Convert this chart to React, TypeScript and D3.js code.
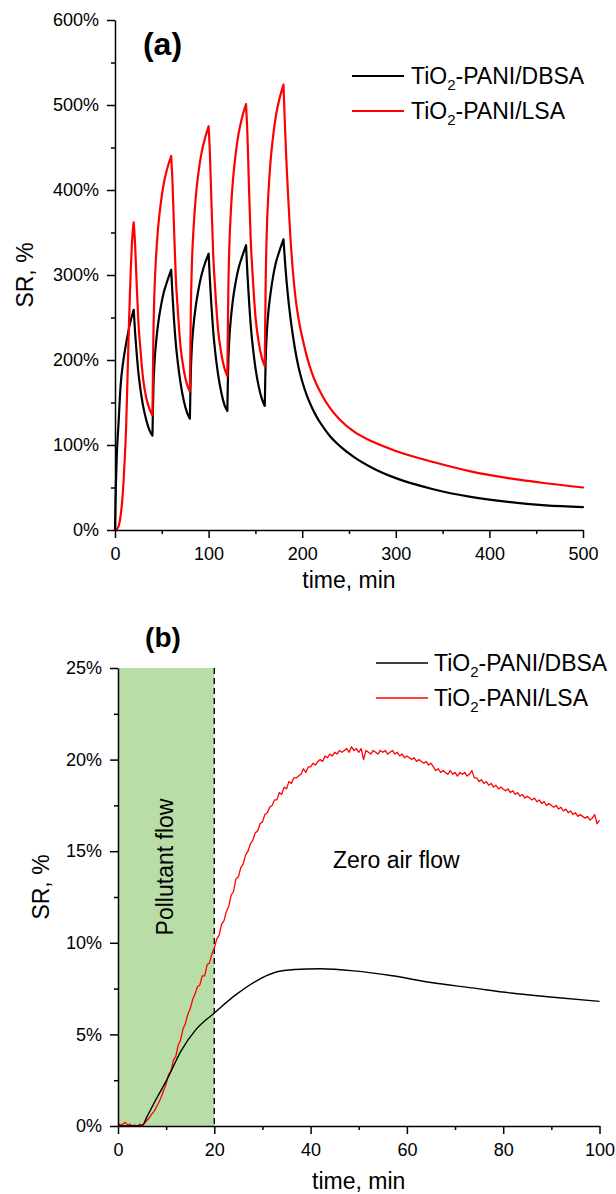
import React, { useEffect, useRef } from 'react';
import * as d3 from 'd3';

const W = 616;
const H = 1194;
const FONT = "'Liberation Sans', Arial, Helvetica, sans-serif";

// ---------- Panel (a) ----------
const aTimeTicks = [0, 100, 200, 300, 400, 500];
const aTimeMinor = [50, 150, 250, 350, 450];
const aSrTicks = [0, 100, 200, 300, 400, 500, 600];
const aSrMinor = [50, 150, 250, 350, 450, 550];

const aDbsaTime = [
  0, 0.5, 1, 2, 3.6, 6, 9, 12.5, 16, 20,
  21.5, 23, 25, 27, 30, 33.5, 37, 40,
  40.5, 41, 42, 44, 46, 49, 52, 55, 60,
  61.5, 63, 65, 67, 70, 73.5, 77, 80,
  80.5, 81, 82, 84, 86, 89, 92, 95, 100,
  101.5, 103, 105, 107, 110, 113.5, 117, 120,
  120.5, 121, 122, 124, 126, 129, 132, 135, 140,
  141.5, 143, 145, 147, 150, 153.5, 157, 160,
  160.5, 161, 162, 164, 166, 169, 172, 175, 180,
  182, 185, 188, 192, 196, 200, 205, 210, 215, 220, 230, 240, 255, 275, 300, 340, 380, 420, 460, 500,
];
const aDbsaSR = [
  0, 30, 55, 90, 122, 170, 200, 223, 243, 259,
  232, 210, 185, 167, 146, 129, 117, 111,
  140, 166, 193, 222, 242, 263, 279, 290, 306,
  275, 248, 219, 198, 173, 152, 138, 131,
  160, 185, 213, 242, 261, 282, 298, 310, 325,
  292, 264, 233, 210, 184, 162, 147, 140,
  169, 195, 222, 251, 271, 292, 308, 319, 335,
  301, 273, 241, 218, 191, 169, 154, 146,
  175, 201, 228, 258, 277, 299, 315, 326, 342,
  310, 273, 245, 215, 192, 175, 158, 145, 134, 125, 110, 99, 86, 73, 61, 48, 39, 33, 29, 27,
];

const aLsaTime = [
  0, 2, 4, 6, 8, 10, 12, 13, 14, 15, 16, 17, 18, 19, 20,
  21.5, 23, 25, 27, 30, 33.5, 37, 40,
  40.5, 41, 42, 44, 46, 49, 52, 55, 60,
  61.5, 63, 65, 67, 70, 73.5, 77, 80,
  80.5, 81, 82, 84, 86, 89, 92, 95, 100,
  101.5, 103, 105, 107, 110, 113.5, 117, 120,
  120.5, 121, 122, 124, 126, 129, 132, 135, 140,
  141.5, 143, 145, 147, 150, 153.5, 157, 160,
  160.5, 161, 162, 164, 166, 169, 172, 175, 180,
  181.5, 183, 185, 187, 190, 193, 197, 201, 205, 210, 215, 220, 230, 240, 255, 275, 300, 340, 380, 420, 460, 500,
];
const aLsaSR = [
  0, 1, 5, 17, 38, 75, 125, 165, 205, 245, 280, 310, 335, 352, 362,
  335, 294, 244, 215, 178, 155, 142, 135,
  181, 227, 275, 324, 355, 385, 407, 422, 440,
  407, 357, 296, 260, 216, 188, 171, 163,
  210, 257, 307, 356, 388, 419, 441, 456, 475,
  440, 387, 322, 284, 237, 208, 190, 181,
  229, 277, 328, 379, 411, 443, 466, 482, 501,
  464, 409, 341, 301, 252, 221, 202, 193,
  243, 292, 345, 398, 431, 464, 488, 504, 524,
  478, 437, 392, 352, 305, 272, 243, 222, 204, 186, 172, 161, 143, 130, 116, 104, 93, 80, 69, 61, 55, 50,
];

// ---------- Panel (b) ----------
const bTimeTicks = [0, 20, 40, 60, 80, 100];
const bTimeMinor = [10, 30, 50, 70, 90];
const bSrTicks = [0, 5, 10, 15, 20, 25];
const bSrMinor = [2.5, 7.5, 12.5, 17.5, 22.5];
const bPollutantEnd = 20;

const bDbsaTime = [0, 2, 4, 5, 6, 8, 10.1, 13.1, 16.3, 20, 24.5, 28.6, 32.7, 36.7, 42, 49, 57, 65, 73.5, 81.6, 89.8, 100];
const bDbsaSR = [0, 0, 0, 0, 0.5, 1.5, 2.5, 4.1, 5.3, 6.17, 7.17, 7.9, 8.39, 8.54, 8.58, 8.47, 8.2, 7.83, 7.54, 7.26, 7.04, 6.8];

// sampled every 0.5 min, t = 0 ... 100
const bLsaStep = 0.5;
const bLsaSR = [
  0.15, 0.05, 0.1, 0.2, 0.05, 0.1, 0.0, 0.05, 0.0, 0.1,
  0.05, 0.15, 0.3, 0.45, 0.65, 0.8, 1.05, 1.3, 1.6, 1.95,
  2.3, 2.8, 3.0, 3.6, 3.8, 4.4, 4.7, 5.3, 5.6, 6.1,
  6.4, 6.9, 7.2, 7.6, 7.7, 8.2, 8.2, 8.8, 8.9, 9.4,
  9.7, 10.2, 10.4, 11.0, 11.2, 11.7, 12.0, 12.6, 12.8, 13.5,
  13.6, 14.1, 14.3, 14.8, 15.0, 15.4, 15.6, 16.0, 16.1, 16.5,
  16.6, 17.0, 17.1, 17.4, 17.5, 17.8, 17.8, 18.2, 18.1, 18.5,
  18.4, 18.8, 18.7, 19.0, 19.0, 19.1, 19.2, 19.5, 19.3, 19.6,
  19.6, 19.8, 19.7, 19.9, 20.0, 19.9, 20.2, 20.1, 20.3, 20.2,
  20.4, 20.3, 20.5, 20.4, 20.5, 20.6, 20.4, 20.7, 20.5, 20.6,
  20.4, 20.6, 20.0, 20.5, 20.4, 20.3, 20.5, 20.4, 20.3, 20.5,
  20.4, 20.5, 20.3, 20.4, 20.5, 20.3, 20.4, 20.2, 20.3, 20.1,
  20.2, 20.1, 20.0, 20.1, 19.9, 20.0, 19.9, 19.8, 19.9, 19.7,
  19.8, 19.6, 19.4, 19.5, 19.3, 19.4, 19.3, 19.2, 19.4, 19.2,
  19.3, 19.1, 19.3, 19.2, 19.3, 19.1, 19.2, 19.4, 19.0, 19.0,
  18.8, 18.9, 18.7, 18.8, 18.6, 18.7, 18.5, 18.6, 18.4, 18.5,
  18.4, 18.3, 18.4, 18.2, 18.3, 18.1, 18.2, 18.0, 18.1, 17.9,
  18.0, 17.9, 17.8, 17.9, 17.7, 17.8, 17.6, 17.7, 17.5, 17.6,
  17.5, 17.4, 17.5, 17.3, 17.4, 17.2, 17.3, 17.1, 17.2, 17.0,
  17.1, 16.9, 17.0, 16.9, 16.8, 16.9, 16.7, 16.8, 17.0, 16.5,
  16.7,
];

const seriesNames = [
  { pre: 'TiO', sub: '2', post: '-PANI/DBSA', color: '#000000' },
  { pre: 'TiO', sub: '2', post: '-PANI/LSA', color: '#ff0000' },
];

type P = { t: number; v: number };

function zipPts(ts: number[], vs: number[]): P[] {
  return ts.map((t, i) => ({ t, v: vs[i] }));
}

// split a series into monotone runs so that the cusps stay sharp
function monotoneRuns(pts: P[]): P[][] {
  const runs: P[][] = [];
  let cur: P[] = [pts[0]];
  let dir = 0;
  for (let i = 1; i < pts.length; i++) {
    const d = Math.sign(pts[i].v - pts[i - 1].v);
    if (dir !== 0 && d !== 0 && d !== dir) {
      runs.push(cur);
      cur = [pts[i - 1]];
    }
    if (d !== 0) dir = d;
    cur.push(pts[i]);
  }
  runs.push(cur);
  return runs;
}

function drawAxes(
  svg: any,
  x: d3.ScaleLinear<number, number>,
  y: d3.ScaleLinear<number, number>,
  xt: number[], xm: number[], yt: number[], ym: number[],
  yFmt: (v: number) => string
) {
  const y0 = y.range()[0];
  const x0 = x.range()[0];
  const style = (g: any) => {
    g.attr('font-size', 18).attr('font-family', FONT);
    g.selectAll('.domain').attr('stroke', '#000').attr('stroke-width', 1.5);
    g.selectAll('.tick line').attr('stroke', '#000').attr('stroke-width', 1.5);
    g.selectAll('.tick text').attr('fill', '#000');
  };
  const gxm = svg.append('g').attr('transform', `translate(0,${y0})`)
    .call(d3.axisBottom(x).tickValues(xm).tickSize(4).tickFormat(() => '').tickSizeOuter(0));
  gxm.select('.domain').remove();
  style(gxm);
  const gx = svg.append('g').attr('transform', `translate(0,${y0})`)
    .call(d3.axisBottom(x).tickValues(xt).tickSize(8).tickPadding(9).tickSizeOuter(0).tickFormat((d: any) => `${d}`));
  style(gx);
  const gym = svg.append('g').attr('transform', `translate(${x0},0)`)
    .call(d3.axisLeft(y).tickValues(ym).tickSize(4).tickFormat(() => '').tickSizeOuter(0));
  gym.select('.domain').remove();
  style(gym);
  const gy = svg.append('g').attr('transform', `translate(${x0},0)`)
    .call(d3.axisLeft(y).tickValues(yt).tickSize(8).tickPadding(8).tickSizeOuter(0).tickFormat((d: any) => yFmt(d)));
  style(gy);
}

function drawLegend(svg: any, lx1: number, lx2: number, tx: number, baseline0: number, rowGap: number, lw: number) {
  seriesNames.forEach((s, i) => {
    const by = baseline0 + i * rowGap;
    svg.append('line')
      .attr('x1', lx1).attr('x2', lx2).attr('y1', by - 8).attr('y2', by - 8)
      .attr('stroke', s.color).attr('stroke-width', lw);
    const t = svg.append('text').attr('x', tx).attr('y', by)
      .attr('font-family', FONT).attr('font-size', 23).attr('fill', '#000');
    t.append('tspan').text(s.pre);
    t.append('tspan').attr('font-size', 15).attr('dy', 6).text(s.sub);
    t.append('tspan').attr('dy', -6).text(s.post);
  });
}

export default function App() {
  const ref = useRef<SVGSVGElement>(null);

  useEffect(() => {
    const svg = d3.select(ref.current);
    svg.selectAll('*').remove();

    // ===== Panel (a) =====
    const xa = d3.scaleLinear().domain([0, 500]).range([115, 583]);
    const ya = d3.scaleLinear().domain([0, 600]).range([530, 20]);
    const lineA = d3.line<P>().x(d => xa(d.t)).y(d => ya(d.v)).curve(d3.curveMonotoneX);

    const aSeries = [
      { pts: zipPts(aDbsaTime, aDbsaSR), color: seriesNames[0].color },
      { pts: zipPts(aLsaTime, aLsaSR), color: seriesNames[1].color },
    ];
    aSeries.forEach(s => {
      const d = monotoneRuns(s.pts).map(r => lineA(r)).join('');
      svg.append('path').attr('d', d).attr('fill', 'none')
        .attr('stroke', s.color).attr('stroke-width', 2.2)
        .attr('stroke-linejoin', 'round').attr('stroke-linecap', 'round');
    });

    drawAxes(svg, xa, ya, aTimeTicks, aTimeMinor, aSrTicks, aSrMinor, v => `${v}%`);

    svg.append('text').attr('x', 162.5).attr('y', 55).attr('text-anchor', 'middle')
      .attr('font-family', FONT).attr('font-size', 32).attr('font-weight', 'bold').text('(a)');
    svg.append('text').attr('x', 349).attr('y', 588).attr('text-anchor', 'middle')
      .attr('font-family', FONT).attr('font-size', 23).text('time, min');
    svg.append('text').attr('transform', 'translate(33,275) rotate(-90)').attr('text-anchor', 'middle')
      .attr('font-family', FONT).attr('font-size', 23).text('SR, %');
    drawLegend(svg, 352, 404, 411, 84, 35, 2.2);

    // ===== Panel (b) =====
    const xb = d3.scaleLinear().domain([0, 100]).range([118, 599.5]);
    const yb = d3.scaleLinear().domain([0, 25]).range([1126, 668]);

    svg.append('rect')
      .attr('x', xb(0)).attr('y', yb(25))
      .attr('width', xb(bPollutantEnd) - xb(0)).attr('height', yb(0) - yb(25))
      .attr('fill', '#b9dda6');
    svg.append('line')
      .attr('x1', xb(bPollutantEnd)).attr('x2', xb(bPollutantEnd))
      .attr('y1', yb(25)).attr('y2', yb(0))
      .attr('stroke', '#000').attr('stroke-width', 1.4).attr('stroke-dasharray', '6,4');

    svg.append('text').attr('transform', 'translate(173,867) rotate(-90)').attr('text-anchor', 'middle')
      .attr('font-family', FONT).attr('font-size', 23).text('Pollutant flow');
    svg.append('text').attr('x', 333).attr('y', 868)
      .attr('font-family', FONT).attr('font-size', 23).text('Zero air flow');

    const bLsaPts: P[] = bLsaSR.map((v, i) => ({ t: i * bLsaStep, v }));
    const bDbsaPts = zipPts(bDbsaTime, bDbsaSR);
    const lineBsmooth = d3.line<P>().x(d => xb(d.t)).y(d => yb(d.v)).curve(d3.curveMonotoneX);
    const lineBraw = d3.line<P>().x(d => xb(d.t)).y(d => yb(d.v));

    svg.append('path').attr('d', lineBraw(bLsaPts)).attr('fill', 'none')
      .attr('stroke', seriesNames[1].color).attr('stroke-width', 1.3).attr('stroke-linejoin', 'round');
    svg.append('path').attr('d', lineBsmooth(bDbsaPts)).attr('fill', 'none')
      .attr('stroke', seriesNames[0].color).attr('stroke-width', 1.4);

    drawAxes(svg, xb, yb, bTimeTicks, bTimeMinor, bSrTicks, bSrMinor, v => `${v}%`);

    svg.append('text').attr('x', 163).attr('y', 647).attr('text-anchor', 'middle')
      .attr('font-family', FONT).attr('font-size', 28).attr('font-weight', 'bold').text('(b)');
    svg.append('text').attr('x', 358.7).attr('y', 1189).attr('text-anchor', 'middle')
      .attr('font-family', FONT).attr('font-size', 23).text('time, min');
    svg.append('text').attr('transform', 'translate(49,887) rotate(-90)').attr('text-anchor', 'middle')
      .attr('font-family', FONT).attr('font-size', 23).text('SR, %');
    drawLegend(svg, 376, 428, 434, 671, 35, 1.4);
  }, []);

  return (
    <svg
      ref={ref}
      width={W}
      height={H}
      viewBox={`0 0 ${W} ${H}`}
      style={{ position: 'absolute', left: 0, top: 0, background: '#fff', fontFamily: FONT }}
    />
  );
}
